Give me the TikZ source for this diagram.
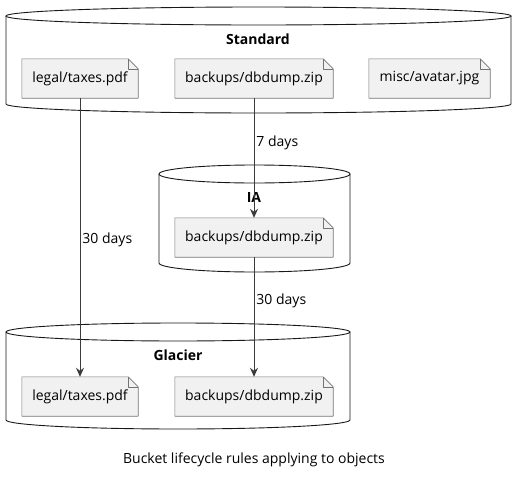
\documentclass[tikz,border=0pt]{standalone}
\usepackage{fontspec}
\setmainfont{Open Sans}
\usetikzlibrary{arrows.meta, positioning, calc}
\definecolor{filegray}{HTML}{F1F1F1}
\definecolor{inkdark}{HTML}{181818}
\tikzset{
    file_box/.style={
        rectangle, fill=filegray, draw=none,
        minimum height=39pt, inner sep=0pt,
        align=center, font=\fontsize{14}{16}\selectfont
    },
    file_line/.style={
        draw=black!55, line width=0.6pt, line join=round
    },
    bucket_line/.style={
        draw=inkdark, line width=0.9pt
    },
    bucket_title/.style={
        font=\fontsize{14}{16}\selectfont\bfseries, inner sep=0pt
    },
    life_arrow/.style={
        -{Stealth[length=9pt, width=8pt, inset=3pt]}, draw=inkdark!85, line width=0.9pt
    },
    days_lbl/.style={
        font=\fontsize{14}{16}\selectfont, inner sep=1pt, anchor=west
    }
}
% bucket: left, right, top centre y, bottom y
\newcommand{\bucketshape}[4]{%
    \draw[bucket_line] ({(#1+#2)/2},#3) ellipse [x radius={(#2-#1)/2*1pt}, y radius=9pt];
    \draw[bucket_line] (#1,#3) -- (#1,#4) arc [start angle=180, end angle=360, x radius={(#2-#1)/2*1pt}, y radius=9pt] -- (#2,#3);
}
% folded corner on a file node
\newcommand{\foldfile}[1]{%
    \fill[white] ([xshift=-10pt]#1.north east) -- (#1.north east) -- ([yshift=-10pt]#1.north east) -- cycle;
    \draw[file_line] ([xshift=-10pt]#1.north east) -- ([xshift=2pt]#1.north west) -- (#1.north west) -- (#1.south west) -- (#1.south east) -- ([yshift=-10pt]#1.north east) -- cycle;
    \draw[file_line] ([xshift=-10pt]#1.north east) |- ([yshift=-10pt]#1.north east);
}
\begin{document}
\begin{tikzpicture}[x=1pt, y=-1pt]
    \useasboundingbox (0,0) rectangle (523,477);

    % Buckets
    \bucketshape{6}{511}{16}{104}
    \bucketshape{159}{350}{174}{263}
    \bucketshape{6}{350}{332}{420}

    \node[bucket_title] (std) at (258, 39) {Standard};
    \node[bucket_title] (ia) at (254, 197) {IA};
    \node[bucket_title] (glac) at (178, 355) {Glacier};

    % Standard objects
    \node[file_box, minimum width=116pt] (std_tax) at (80, 78.5) {legal/taxes.pdf};
    \node[file_box, minimum width=158pt] (std_dump) at (254, 78.5) {backups/dbdump.zip};
    \node[file_box, minimum width=121pt] (std_avatar) at (429.5, 78.5) {misc/avatar.jpg};

    % IA objects
    \node[file_box, minimum width=158pt] (ia_dump) at (254, 237.5) {backups/dbdump.zip};

    % Glacier objects
    \node[file_box, minimum width=116pt] (glac_tax) at (80, 396.5) {legal/taxes.pdf};
    \node[file_box, minimum width=158pt] (glac_dump) at (254, 396.5) {backups/dbdump.zip};

    \foreach \f in {std_tax, std_dump, std_avatar, ia_dump, glac_tax, glac_dump} {
        \foldfile{\f}
    }

    % Transitions
    \draw[life_arrow] (std_tax) -- node[days_lbl, pos=0.51, xshift=1pt] {30 days} (glac_tax);
    \draw[life_arrow] (std_dump) -- node[days_lbl, pos=0.375, xshift=1pt] {7 days} (ia_dump);
    \draw[life_arrow] (ia_dump) -- node[days_lbl, pos=0.365, xshift=1pt] {30 days} (glac_dump);

    \node[font=\fontsize{14}{16}\selectfont] (caption) at (254, 460) {Bucket lifecycle rules applying to objects};
\end{tikzpicture}
\end{document}
